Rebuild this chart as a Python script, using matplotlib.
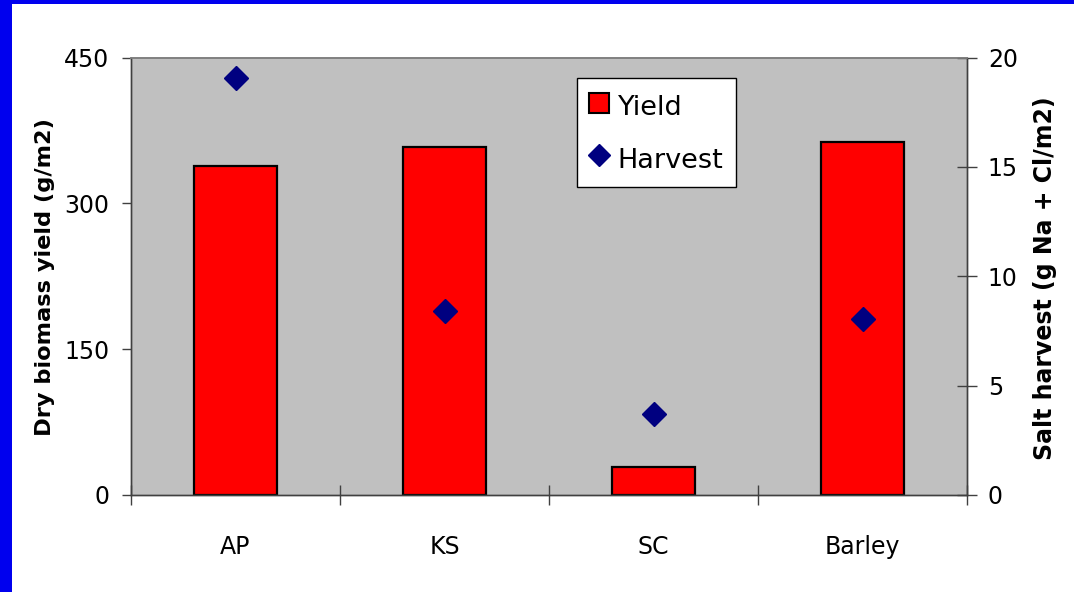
import matplotlib
matplotlib.use("Agg")
import matplotlib.pyplot as plt
from matplotlib.lines import Line2D
from matplotlib.patches import Rectangle
import numpy as np

plt.rcParams['font.family'] = ['DejaVu Sans']

# Data
crops = ["AP", "KS", "SC", "Barley"]
yield_gm2 = [338, 358, 29, 363]          # dry biomass yield (g/m2)
salt_harvest = [19.05, 8.4, 3.7, 8.05]   # salt harvest (g Na + Cl/m2)
yield_ticks = [0, 150, 300, 450]
harvest_ticks = [0, 5, 10, 15, 20]

fig = plt.figure(figsize=(10.74, 5.92), dpi=100)
fig.patch.set_facecolor("white")

# Slide frame strips (left and top)
fig.patches.append(Rectangle((0, 0), 12 / 1074, 1, transform=fig.transFigure,
                             facecolor="#0000EE", edgecolor="none", zorder=0))
fig.patches.append(Rectangle((0, 1 - 4 / 592), 1, 4 / 592, transform=fig.transFigure,
                             facecolor="#0000EE", edgecolor="none", zorder=0))

ax = fig.add_axes([131 / 1074, 1 - 495 / 592, 836 / 1074, 437.5 / 592])
ax.set_facecolor("#C0C0C0")
x = np.arange(len(crops))

ax.bar(x, yield_gm2, width=0.4, color="#FF0000", edgecolor="black",
       linewidth=1.6, zorder=2)
ax.set_xlim(-0.5, len(crops) - 0.5)
ax.set_ylim(0, 450)
ax.set_yticks(yield_ticks)
ax.set_xticks(x)
ax.set_xticklabels(crops)
ax.set_xticks(np.arange(-0.5, len(crops)), minor=True)
ax.tick_params(axis="x", which="major", length=0, pad=29, labelsize=17)
ax.tick_params(axis="x", which="minor", direction="inout", length=14,
               color="#404040", width=1)
ax.tick_params(axis="y", direction="out", length=6.5, pad=9, labelsize=17,
               color="#404040", width=1)

for side in ("left", "bottom", "right"):
    ax.spines[side].set_color("#404040")
    ax.spines[side].set_linewidth(1)
ax.spines["top"].set_color("#808080")
ax.spines["top"].set_linewidth(1.2)

ax2 = ax.twinx()
ax2.plot(x, salt_harvest, linestyle="none", marker="D", markersize=12.5,
         color="#000080", zorder=3)
ax2.set_ylim(0, 20)
ax2.set_yticks(harvest_ticks)
ax2.tick_params(axis="y", direction="inout", length=14, pad=8, labelsize=17,
                color="#404040", width=1)
for side in ("left", "bottom", "right"):
    ax2.spines[side].set_color("#404040")
    ax2.spines[side].set_linewidth(1)
ax2.spines["top"].set_color("#808080")
ax2.spines["top"].set_linewidth(1.2)

ax.set_ylabel("Dry biomass yield (g/m2)", fontsize=16.2, fontweight="bold")
ax.yaxis.set_label_coords(-0.1029, 0.497)
ax.yaxis.label.set_va("center")
ax2.set_ylabel("Salt harvest (g Na + Cl/m2)", fontsize=17, fontweight="bold")
ax2.yaxis.set_label_coords(1.0933, 0.496)
ax2.yaxis.label.set_va("center")

handles = [
    Line2D([], [], linestyle="none", marker="s", markersize=14,
           markerfacecolor="#FF0000", markeredgecolor="black", markeredgewidth=1.5),
    Line2D([], [], linestyle="none", marker="D", markersize=11, color="#000080"),
]
leg = ax2.legend(handles, ["Yield", "Harvest"], loc="upper left",
                 bbox_to_anchor=((577 - 131) / 836, (495 - 78) / 437.5),
                 fontsize=19.5, frameon=True, fancybox=False, framealpha=1,
                 edgecolor="black", borderpad=0.45, labelspacing=0.75,
                 handlelength=0.75, handleheight=1.45, handletextpad=0.3,
                 borderaxespad=0)
leg.get_frame().set_linewidth(1)

fig.savefig("out.png", dpi=100, facecolor="white")
